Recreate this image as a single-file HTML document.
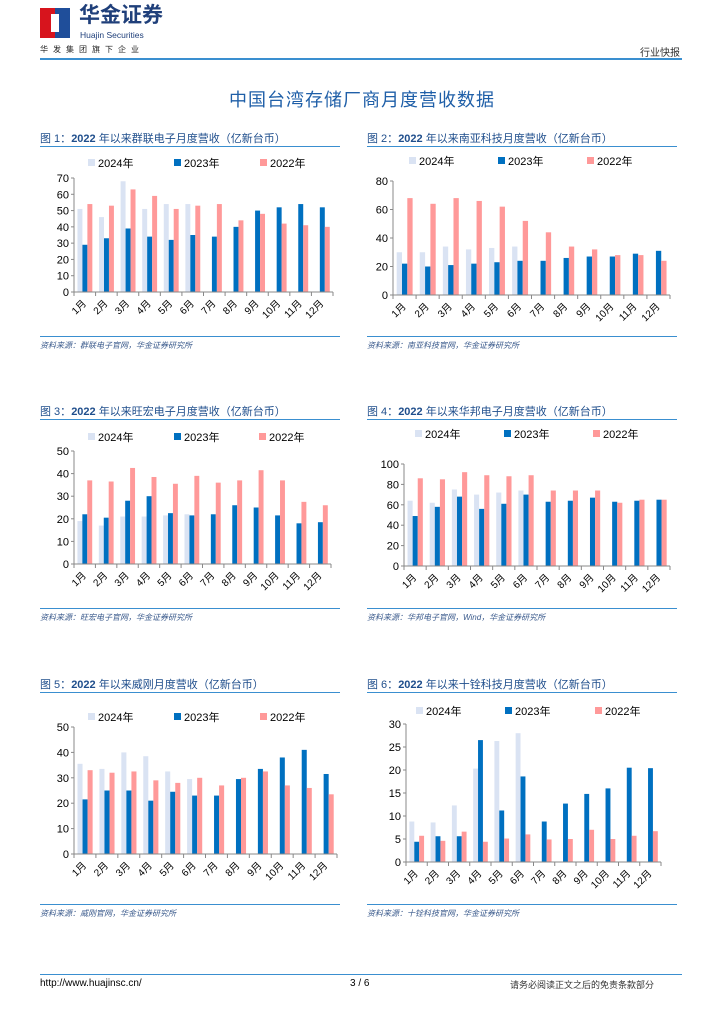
<!DOCTYPE html>
<html><head><meta charset="utf-8">
<style>
body{margin:0;background:#fff;}
#page{position:relative;width:724px;height:1024px;overflow:hidden;font-family:"Liberation Sans","Noto Sans CJK SC",sans-serif;}
.abs{position:absolute;white-space:nowrap;}
.cap{font-size:11px;color:#1f4e8c;}
.src{font-size:8px;color:#3a5a8c;font-style:italic;}
</style></head>
<body>
<div id="page">
  <div class="abs" style="left:40px;top:8px;width:30px;height:30px;background:#d7141d;">
    <div style="position:absolute;left:15px;top:0;width:15px;height:30px;background:#1f4e9a;"></div>
    <div style="position:absolute;left:11px;top:6px;width:8px;height:18px;background:#fff;"></div>
  </div>
  <div class="abs" style="left:79px;top:3px;font-size:21px;line-height:26px;font-weight:bold;color:#1f3f7a;letter-spacing:0px;">华金证券</div>
  <div class="abs" style="left:80px;top:30px;font-size:8.5px;line-height:10px;color:#1f3f7a;">Huajin Securities</div>
  <div class="abs" style="left:40px;top:44px;font-size:8px;color:#222;letter-spacing:5px;">华发集团旗下企业</div>
  <div class="abs" style="left:640px;top:44px;font-size:10px;color:#333;">行业快报</div>
  <div class="abs" style="left:40px;top:58px;width:642px;height:2px;background:#3a8fd0;"></div>
  <div class="abs" style="left:0;width:724px;text-align:center;top:86px;font-size:18px;color:#1f5fa8;letter-spacing:1px;">中国台湾存储厂商月度营收数据</div>

  <div id="charts"></div>

  <div class="abs" style="left:40px;top:974px;width:642px;height:1px;background:#3a8fd0;"></div>
  <div class="abs" style="left:40px;top:978px;font-size:10px;color:#000;">http://www.huajinsc.cn/</div>
  <div class="abs" style="left:350px;top:978px;font-size:10px;color:#000;">3 / 6</div>
  <div class="abs" style="left:510px;top:978px;font-size:9px;color:#333;">请务必阅读正文之后的免责条款部分</div>
</div>
<script>
const months=["1月","2月","3月","4月","5月","6月","7月","8月","9月","10月","11月","12月"];
const c1_2024=[51,46,68,51,54,54];
const c1_2023=[29,33,39,34,32,35,34,40,50,52,54,52];
const c1_2022=[54,53,63,59,51,53,54,44,48,42,41,40];
const c1_ticks=[0,10,20,30,40,50,60,70];
const c2_2024=[30,30,34,32,33,34];
const c2_2023=[22,20,21,22,23,24,24,26,27,27,29,31];
const c2_2022=[68,64,68,66,62,52,44,34,32,28,28,24];
const c2_ticks=[0,20,40,60,80];
const c3_2024=[19,17,21,21,21.5,22];
const c3_2023=[22,20.5,28,30,22.5,21.5,22,26,25,21.5,18,18.5];
const c3_2022=[37,36.5,42.5,38.5,35.5,39,36,37,41.5,37,27.5,26];
const c3_ticks=[0,10,20,30,40,50];
const c4_2024=[64,62,75,70,72,74];
const c4_2023=[49,58,68,56,61,70,63,64,67,63,64,65];
const c4_2022=[86,85,92,89,88,89,74,74,74,62,65,65];
const c4_ticks=[0,20,40,60,80,100];
const c5_2024=[35.5,33.5,40,38.5,32.5,29.5];
const c5_2023=[21.5,25,25,21,24.5,23,23,29.5,33.5,38,41,31.5];
const c5_2022=[33,32,32.5,29,28,30,27,30,32.5,27,26,23.5];
const c5_ticks=[0,10,20,30,40,50];
const c6_2024=[8.8,8.6,12.3,20.3,26.3,28];
const c6_2023=[4.4,5.6,5.6,26.5,11.2,18.6,8.8,12.7,14.8,16,20.5,20.4];
const c6_2022=[5.7,4.6,6.6,4.4,5.1,6,4.9,5,7,5,5.7,6.7];
const c6_ticks=[0,5,10,15,20,25,30];

const COLORS=["#dae3f3","#0070c0","#ff9999"];
const NS="http://www.w3.org/2000/svg";
const page=document.getElementById('charts');

function mk(tag,attrs,parent){const e=document.createElementNS(NS,tag);for(const k in attrs)e.setAttribute(k,attrs[k]);if(parent)parent.appendChild(e);return e;}

function chart(cfg){
  const cap=document.createElement('div');
  cap.className='abs cap';
  cap.style.left=cfg.bx+'px';cap.style.top=(cfg.capY)+'px';
  cap.innerHTML='图 '+cfg.n+'：<b>2022</b> 年以来'+cfg.title+'（亿新台币）';
  
  
  page.appendChild(cap);
  const r1=document.createElement('div');r1.className='abs';
  r1.style.cssText='left:'+cfg.bx+'px;top:'+(cfg.capY+16)+'px;width:'+cfg.bw+'px;height:1px;background:#3a8fd0;';
  
  
  page.appendChild(r1);
  const r2=document.createElement('div');r2.className='abs';
  r2.style.cssText='left:'+cfg.bx+'px;top:'+cfg.srcY+'px;width:'+cfg.bw+'px;height:1px;background:#3a8fd0;';
  
  
  page.appendChild(r2);
  const src=document.createElement('div');src.className='abs src';
  src.style.left=cfg.bx+'px';src.style.top=(cfg.srcY+4)+'px';
  src.textContent='资料来源：'+cfg.source;
  
  
  page.appendChild(src);

  const svg=mk('svg',{width:724,height:1024,style:'position:absolute;left:0;top:0;'});
  
  
  page.appendChild(svg);
  const max=cfg.ticks[cfg.ticks.length-1];
  const y=v=>cfg.y0-(v/max)*(cfg.y0-cfg.yTop);
  const cw=(cfg.x1-cfg.x0)/12;
  const bw=cw*0.23, off=cw*0.16;
  const names=["2024年","2023年","2022年"];
  names.forEach((nm,i)=>{
    const g=mk('g',{},svg);
    
    
    mk('rect',{x:cfg.lx[i],y:cfg.ly-4,width:7,height:7,fill:COLORS[i]},g);
    const t=mk('text',{x:cfg.lx[i]+10,y:cfg.ly+4,'font-size':11,fill:'#000'},g);t.textContent=nm;
  });
  cfg.series.forEach((s,si)=>{
    s.forEach((v,i)=>{
      const r=mk('rect',{x:cfg.x0+i*cw+off+si*bw,y:y(v),width:bw,height:cfg.y0-y(v),fill:COLORS[si]},svg);
      
      
    });
  });
  mk('line',{x1:cfg.x0,y1:cfg.yTop,x2:cfg.x0,y2:cfg.y0,stroke:'#888','stroke-width':1},svg);
  cfg.ticks.forEach(t=>{
    mk('line',{x1:cfg.x0-3,y1:y(t),x2:cfg.x0,y2:y(t),stroke:'#888'},svg);
    const tx=mk('text',{x:cfg.x0-5,y:y(t)+4,'font-size':11,'text-anchor':'end',fill:'#000'},svg);
    tx.textContent=t;
    
    
  });
  mk('line',{x1:cfg.x0,y1:cfg.y0,x2:cfg.x1,y2:cfg.y0,stroke:'#888'},svg);
  for(let i=0;i<=12;i++)mk('line',{x1:cfg.x0+i*cw,y1:cfg.y0,x2:cfg.x0+i*cw,y2:cfg.y0+4,stroke:'#888'},svg);
  months.forEach((m,i)=>{
    const cx=cfg.x0+(i+0.5)*cw+2, cy=cfg.y0+12;
    const tx=mk('text',{x:cx,y:cy,'font-size':10,'text-anchor':'end',transform:'rotate(-45 '+cx+' '+cy+')',fill:'#000'},svg);
    tx.textContent=m;
    
    
  });
}

chart({n:1,title:'群联电子月度营收',source:'群联电子官网，华金证券研究所',bx:40,bw:300,capY:130,srcY:336,
  x0:74,x1:333,y0:292,yTop:178,ticks:c1_ticks,series:[c1_2024,c1_2023,c1_2022],lx:[88,174,260],ly:163});
chart({n:2,title:'南亚科技月度营收',source:'南亚科技官网，华金证券研究所',bx:367,bw:310,capY:130,srcY:336,
  x0:393,x1:670,y0:295,yTop:181,ticks:c2_ticks,series:[c2_2024,c2_2023,c2_2022],lx:[409,498,587],ly:161});
chart({n:3,title:'旺宏电子月度营收',source:'旺宏电子官网，华金证券研究所',bx:40,bw:300,capY:403,srcY:608,
  x0:74,x1:331,y0:564,yTop:451,ticks:c3_ticks,series:[c3_2024,c3_2023,c3_2022],lx:[88,174,259],ly:437});
chart({n:4,title:'华邦电子月度营收',source:'华邦电子官网，Wind，华金证券研究所',bx:367,bw:310,capY:403,srcY:608,
  x0:404,x1:670,y0:566,yTop:464,ticks:c4_ticks,series:[c4_2024,c4_2023,c4_2022],lx:[415,504,593],ly:434});
chart({n:5,title:'威刚月度营收',source:'威刚官网，华金证券研究所',bx:40,bw:300,capY:676,srcY:904,
  x0:74,x1:337,y0:854,yTop:727,ticks:c5_ticks,series:[c5_2024,c5_2023,c5_2022],lx:[88,174,260],ly:717});
chart({n:6,title:'十铨科技月度营收',source:'十铨科技官网，华金证券研究所',bx:367,bw:310,capY:676,srcY:904,
  x0:406,x1:661,y0:862,yTop:724,ticks:c6_ticks,series:[c6_2024,c6_2023,c6_2022],lx:[416,505,595],ly:711});
</script>
</body></html>
